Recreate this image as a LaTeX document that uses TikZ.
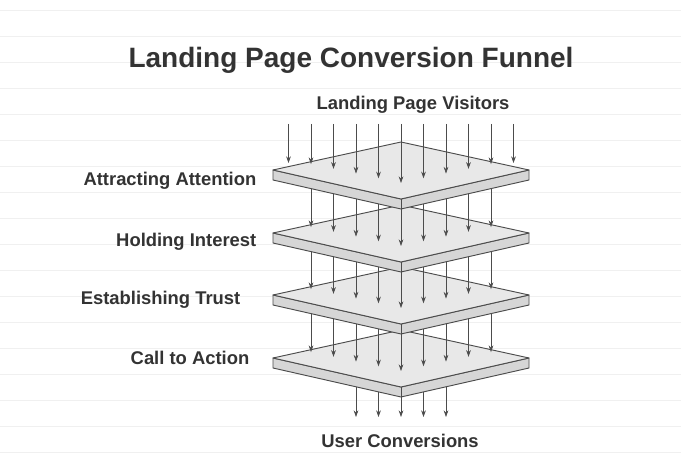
\documentclass[tikz,border=0pt]{standalone}
\usepackage{fontspec}
\setmainfont{Liberation Sans}
\usetikzlibrary{arrows.meta}
\begin{document}
\begin{tikzpicture}[x=0.75pt,y=-0.75pt,
  lbl/.style={font=\bfseries\fontsize{13.8}{16}\selectfont,text=black!80},
  flow/.style={draw=black!70,line width=0.5pt,-{Stealth[length=5pt,width=3.5pt]}},
  slabtop/.style={fill=gray!18,draw=black!70,line width=0.7pt,line join=round},
  slabside/.style={fill=gray!32,draw=black!70,line width=0.7pt,line join=round}]
\useasboundingbox (0,0) rectangle (681,473);
\fill[white] (0,0) rectangle (681,473);
\foreach \y in {10,36,62,88,114,140,166,192,218,244,270,296,322,348,374,400,426,452}
  \draw[black!6,line width=0.4pt] (0,\y) -- (681,\y);
\newcommand{\slab}[1]{%
  \draw[slabside] (273,#1) -- (401,#1+29) -- (529,#1) -- (529,#1+10) -- (401,#1+39) -- (273,#1+10) -- cycle;
  \draw[slabside] (401,#1+29) -- (401,#1+39);
  \draw[slabtop] (273,#1) -- (401,#1-28) -- (529,#1) -- (401,#1+29) -- cycle;}
\newcommand{\arrs}[3]{%
  \foreach \d in {#3}{
    \pgfmathsetmacro{\ey}{max(#1-7,#1+13-0.21*abs(\d))}
    \coordinate (s) at (401+\d,#2);
    \coordinate (e) at (401+\d,\ey);
    \draw[flow] (s) -- (e);}}
\foreach \d in {-45,-22.5,0,22.5,45}{
  \coordinate (bs) at (401+\d,380); \coordinate (be) at (401+\d,417);
  \draw[flow] (bs) -- (be);}
\slab{358}
\arrs{358}{300}{-90,-67.5,-45,-22.5,0,22.5,45,67.5,90}
\slab{295}
\arrs{295}{240}{-90,-67.5,-45,-22.5,0,22.5,45,67.5,90}
\slab{233}
\arrs{233}{178}{-90,-67.5,-45,-22.5,0,22.5,45,67.5,90}
\slab{170}
\arrs{170}{124}{-112.5,-90,-67.5,-45,-22.5,0,22.5,45,67.5,90,112.5}
\node[font=\bfseries\fontsize{21}{24}\selectfont,text=black!80] (title) at (351,60) {Landing Page Conversion Funnel};
\node[lbl] (vis) at (413,105) {Landing Page Visitors};
\node[lbl] (conv) at (400,441) {User Conversions};
\node[lbl,anchor=east] (l1) at (261,181) {Attracting Attention};
\node[lbl,anchor=east] (l2) at (261,242) {Holding Interest};
\node[lbl,anchor=east] (l3) at (245,300) {Establishing Trust};
\node[lbl,anchor=east] (l4) at (254,358) {Call to Action};
\end{tikzpicture}
\end{document}
